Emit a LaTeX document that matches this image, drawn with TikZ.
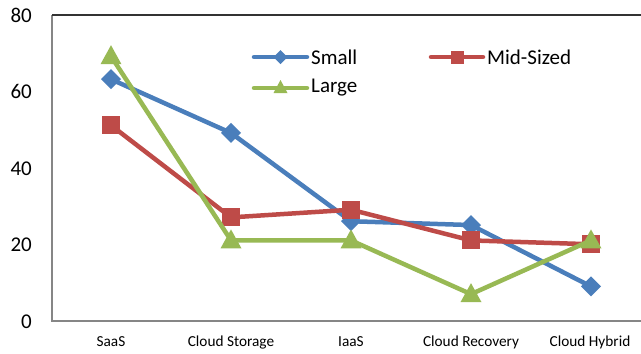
\documentclass[tikz,border=0pt]{standalone}
\usepackage{fontspec}
\setmainfont{Carlito}
\definecolor{sblue}{HTML}{4A7EBB}
\definecolor{sred}{HTML}{BE4B48}
\definecolor{sgreen}{HTML}{98B954}
\definecolor{axgray}{HTML}{868686}
\begin{document}
\begin{tikzpicture}[x=1pt,y=-1pt,
  declare function={yp(\v)=321-3.8375*\v;},
  serie/.style={line width=4.5pt, line join=round, line cap=round},
  ticklab/.style={anchor=east, inner sep=0pt, font=\fontsize{21}{25}\selectfont},
  catlab/.style={inner sep=0pt, font=\fontsize{15.3}{18}\selectfont},
  leglab/.style={anchor=west, inner sep=0pt, font=\fontsize{21}{25}\selectfont},
  pics/dmark/.style={code={\fill (-10,0)--(0,-10)--(10,0)--(0,10)--cycle;}},
  pics/smark/.style={code={\fill (-9,-9) rectangle (9,9);}},
  pics/tmark/.style={code={\fill (0,-11)--(10.5,8)--(-10.5,8)--cycle;}},
  pics/dmarks/.style={code={\fill (-7,0)--(0,-7)--(7,0)--(0,7)--cycle;}},
  pics/smarks/.style={code={\fill (-6.5,-6.5) rectangle (6.5,6.5);}},
  pics/tmarks/.style={code={\fill (0,-8)--(7,5)--(-7,5)--cycle;}}
]
\useasboundingbox (0,0) rectangle (641,354);
\fill[white] (0,0) rectangle (641,354);
% axes
\coordinate (o) at (52,321);
\coordinate (tl) at (52,15);
\coordinate (tr) at (641,15);
\coordinate (br) at (641,321);
\draw[axgray, line width=1.6pt] (tl) -- (o) -- (br);
\draw[black!80, line width=1.4pt] (tl) -- (tr);
% tick labels
\foreach \v in {0,20,40,60,80}
  \node[ticklab] (y\v) at (32,{yp(\v)+1}) {\v};
% category labels
\node[catlab] (c1) at (111,342) {SaaS};
\node[catlab] (c2) at (231,342) {Cloud Storage};
\node[catlab] (c3) at (351,342) {IaaS};
\node[catlab] (c4) at (471,342) {Cloud Recovery};
\node[catlab] (c5) at (590,342) {Cloud Hybrid};
% data points
\coordinate (s1) at (111,{yp(63)});
\coordinate (s2) at (231,{yp(49)});
\coordinate (s3) at (351,{yp(26)});
\coordinate (s4) at (471,{yp(25)});
\coordinate (s5) at (591,{yp(9)});
\coordinate (m1) at (111,{yp(51)});
\coordinate (m2) at (231,{yp(27)});
\coordinate (m3) at (351,{yp(29)});
\coordinate (m4) at (471,{yp(21)});
\coordinate (m5) at (591,{yp(20)});
\coordinate (l1) at (111,{yp(69)});
\coordinate (l2) at (231,{yp(21)});
\coordinate (l3) at (351,{yp(21)});
\coordinate (l4) at (471,{yp(7)});
\coordinate (l5) at (591,{yp(21)});
% series
\draw[serie, sblue] (s1)--(s2)--(s3)--(s4)--(s5);
\foreach \i in {1,...,5} \pic[sblue] at (s\i) {dmark};
\draw[serie, sred] (m1)--(m2)--(m3)--(m4)--(m5);
\foreach \i in {1,...,5} \pic[sred] at (m\i) {smark};
\draw[serie, sgreen] (l1)--(l2)--(l3)--(l4)--(l5);
\foreach \i in {1,...,5} \pic[sgreen] at (l\i) {tmark};
% legend
\coordinate (ls0) at (254,57);
\coordinate (ls1) at (307,57);
\draw[serie, sblue] (ls0) -- (ls1);
\pic[sblue] at (280.5,57) {dmarks};
\node[leglab] (lsmall) at (311,57) {Small};
\coordinate (lm0) at (431,57);
\coordinate (lm1) at (483,57);
\draw[serie, sred] (lm0) -- (lm1);
\pic[sred] at (457,57) {smarks};
\node[leglab] (lmid) at (487,57) {Mid-Sized};
\coordinate (ll0) at (254,88);
\coordinate (ll1) at (307,88);
\draw[serie, sgreen] (ll0) -- (ll1);
\pic[sgreen] at (280.5,88) {tmarks};
\node[leglab] (llarge) at (311,88) {Large};
\end{tikzpicture}
\end{document}
